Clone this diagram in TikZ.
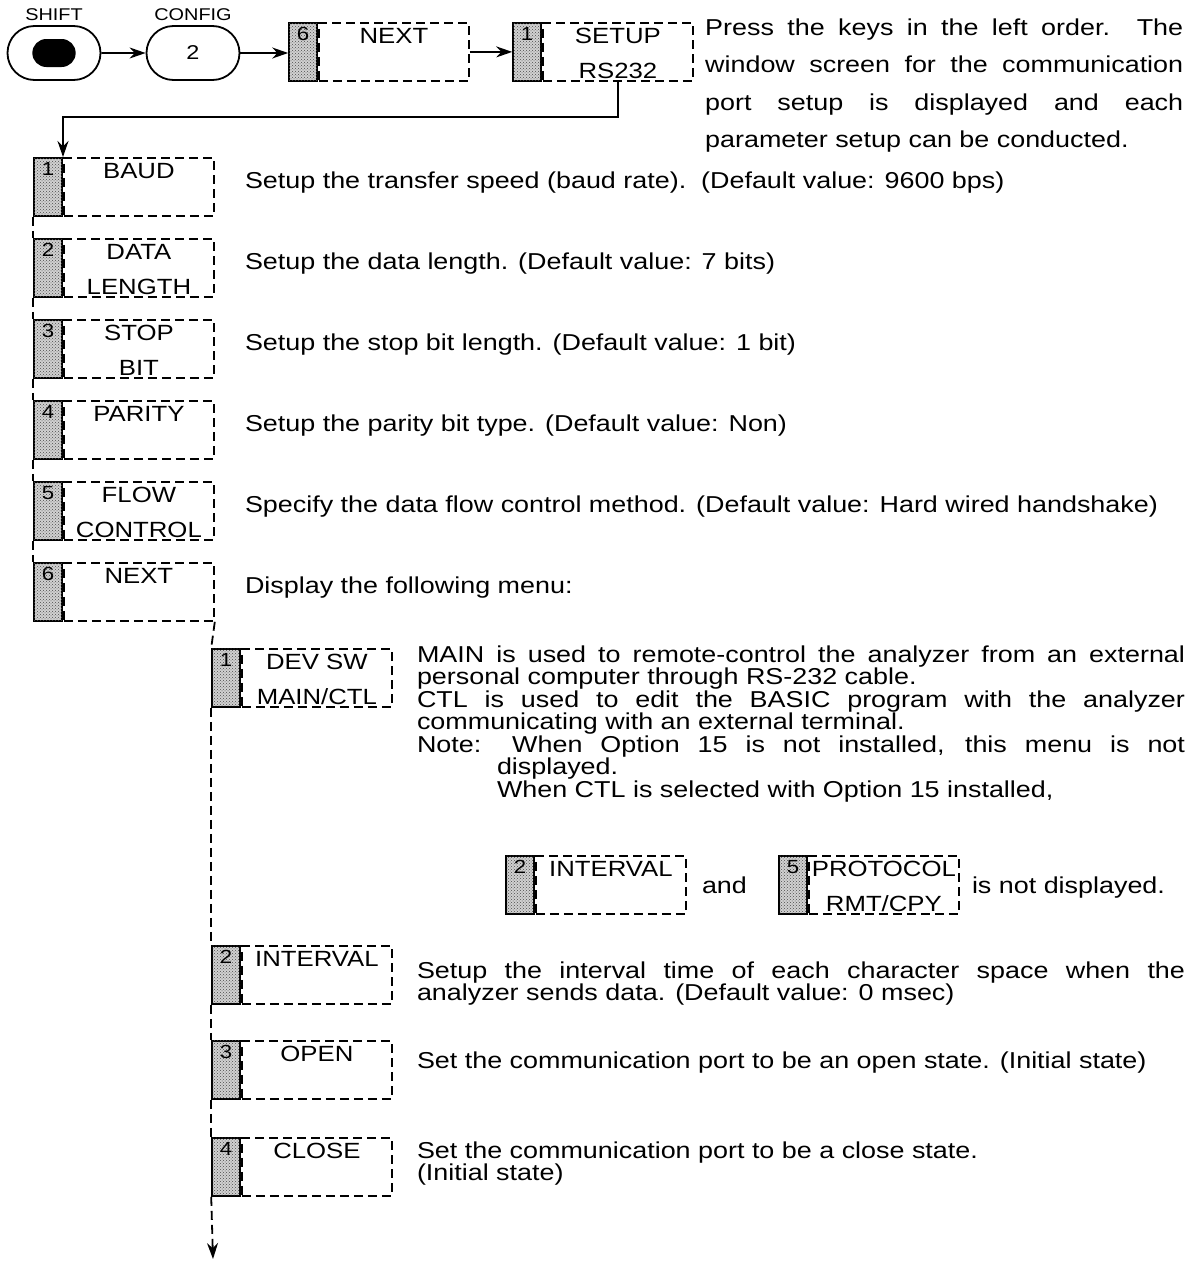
\documentclass[tikz,border=0pt]{standalone}
\usepackage{fontspec}
\setmainfont{Liberation Sans}[FakeStretch=1.17]
\usetikzlibrary{arrows.meta,shapes.misc,patterns}

\tikzset{
  keybox/.style={draw, line width=1.8pt, dash pattern=on 9pt off 5pt,
    minimum width=150pt, minimum height=58pt, inner sep=0pt, anchor=north west},
  keytab/.style={draw, line width=1.8pt, fill=black!18,
    postaction={pattern=crosshatch dots, pattern color=black!70},
    minimum width=28pt, minimum height=58pt, inner sep=0pt, anchor=north east},
  keynum/.style={font=\fontsize{19}{19}\selectfont, inner sep=0pt, anchor=north, yshift=-5pt},
  keytext/.style={font=\fontsize{22}{22}\selectfont, inner sep=0pt, anchor=base},
  hardkey/.style={draw, line width=1.8pt, rounded rectangle, minimum width=93pt,
    minimum height=54pt, inner sep=0pt, font=\fontsize{20}{20}\selectfont},
  keyname/.style={font=\fontsize{17}{17}\selectfont, inner sep=0pt},
  desc/.style={font=\fontsize{23}{22.5}\selectfont, inner sep=0pt, anchor=base west},
  flow/.style={line width=1.8pt, -{Stealth[length=16pt,width=11pt]}},
  link/.style={line width=1.8pt, dash pattern=on 9pt off 5pt},
}

% soft key: name, x, y, number, upper line, lower line
\newcommand{\softkey}[6]{%
  \node[keybox] (#1) at (#2,#3) {};
  \node[keytab] (#1-tab) at (#1.north west) {};
  \node[keynum] (#1-num) at (#1-tab.north) {#4};
  \node[keytext] (#1-up) at ([yshift=-21pt]#1.north) {#5};
  \node[keytext] (#1-lo) at ([yshift=3pt]#1.south) {#6};
}

\begin{document}
\begin{tikzpicture}[x=1pt,y=-1pt]
    \useasboundingbox (0,0) rectangle (1201,1261);
    % Hard keys
    \node[keyname] (shift-name) at (54,15) {SHIFT};
    \node[hardkey] (shift) at (54,53) {};
    \node[fill, rounded rectangle, minimum width=50pt, minimum height=28pt] (shift-dot) at (shift.center) {};
    \node[keyname] (config-name) at (193,15) {CONFIG};
    \node[hardkey] (config) at (193,53) {2};

    % Top row of soft keys
    \softkey{next}{318}{22}{6}{NEXT}{}
    \softkey{setup}{542}{22}{1}{SETUP}{RS232}
    \draw[flow] (shift) -- (config);
    \draw[flow] (config.east) -- (config.east -| next-tab.west);
    \draw[flow] (next.east) -- (next.east -| setup-tab.west);
    \node[desc] (intro) at (705,35) {\parbox[t]{478pt}{\fontsize{23}{37.5}\selectfont
      Press the keys in the left order.\ \ The\linebreak
      window screen for the communication\linebreak
      port setup is displayed and each\linebreak
      parameter setup can be conducted.}};

    % Setup menu
    \softkey{baud}{63}{157}{1}{BAUD}{}
    \softkey{datalen}{63}{238}{2}{DATA}{LENGTH}
    \softkey{stopbit}{63}{319}{3}{STOP}{BIT}
    \softkey{parity}{63}{400}{4}{PARITY}{}
    \softkey{flowctl}{63}{481}{5}{FLOW}{CONTROL}
    \softkey{more}{63}{562}{6}{NEXT}{}
    \draw[flow] (setup.south) -- ++(0,35) -| (baud-tab.north east);
    \foreach \a/\b in {baud/datalen, datalen/stopbit, stopbit/parity, parity/flowctl, flowctl/more}
        \draw[link] (\a-tab.south west) -- (\b-tab.north west);

    \node[desc] (baud-desc) at ([xshift=30pt,yshift=-31pt]baud.north east)
        {Setup the transfer speed (baud rate).\ \ (Default value: 9600 bps)};
    \node[desc] (datalen-desc) at ([xshift=30pt,yshift=-31pt]datalen.north east)
        {Setup the data length. (Default value: 7 bits)};
    \node[desc] (stopbit-desc) at ([xshift=30pt,yshift=-31pt]stopbit.north east)
        {Setup the stop bit length. (Default value: 1 bit)};
    \node[desc] (parity-desc) at ([xshift=30pt,yshift=-31pt]parity.north east)
        {Setup the parity bit type. (Default value: Non)};
    \node[desc] (flowctl-desc) at ([xshift=30pt,yshift=-31pt]flowctl.north east)
        {Specify the data flow control method. (Default value: Hard wired handshake)};
    \node[desc] (more-desc) at ([xshift=30pt,yshift=-31pt]more.north east)
        {Display the following menu:};

    % Next menu
    \softkey{devsw}{241}{648}{1}{DEV SW}{MAIN/CTL}
    \softkey{interval}{241}{945}{2}{INTERVAL}{}
    \softkey{open}{241}{1040}{3}{OPEN}{}
    \softkey{close}{241}{1137}{4}{CLOSE}{}
    \coordinate (menu-end) at (213,1259);
    \draw[link] (more.south east) -- (devsw-tab.north west);
    \foreach \a/\b in {devsw/interval, interval/open, open/close}
        \draw[link] (\a-tab.south west) -- (\b-tab.north west);
    \draw[link, -{Stealth[length=16pt,width=11pt]}] (close-tab.south west) -- (menu-end);

    \node[desc] (devsw-desc) at ([xshift=24pt,yshift=-14pt]devsw.north east)
        {\parbox[t]{768pt}{\hyphenpenalty=10000
        MAIN is used to remote-control the analyzer from an external\linebreak
        personal computer through RS-232 cable.\par
        CTL is used to edit the BASIC program with the analyzer\linebreak
        communicating with an external terminal.\par
        \hangindent=80pt\hangafter=1
        Note: When Option 15 is not installed, this menu is not\linebreak
        displayed.\par
        \leftskip=80pt When CTL is selected with Option 15 installed,}};
    \softkey{ivnote}{535}{855}{2}{INTERVAL}{}
    \softkey{protnote}{808}{855}{5}{PROTOCOL}{RMT/CPY}
    \node[desc] (and-word) at ([xshift=15pt,yshift=-38pt]ivnote.north east) {and};
    \node[desc] (not-shown) at ([xshift=12pt,yshift=-38pt]protnote.north east) {is not displayed.};

    \node[desc] (interval-desc) at ([xshift=24pt,yshift=-33pt]interval.north east)
        {\parbox[t]{768pt}{Setup the interval time of each character space when the\linebreak
        analyzer sends data. (Default value: 0 msec)}};
    \node[desc] (open-desc) at ([xshift=24pt,yshift=-28pt]open.north east)
        {Set the communication port to be an open state. (Initial state)};
    \node[desc] (close-desc) at ([xshift=24pt,yshift=-21pt]close.north east)
        {\parbox[t]{768pt}{Set the communication port to be a close state.\\(Initial state)}};
\end{tikzpicture}
\end{document}
